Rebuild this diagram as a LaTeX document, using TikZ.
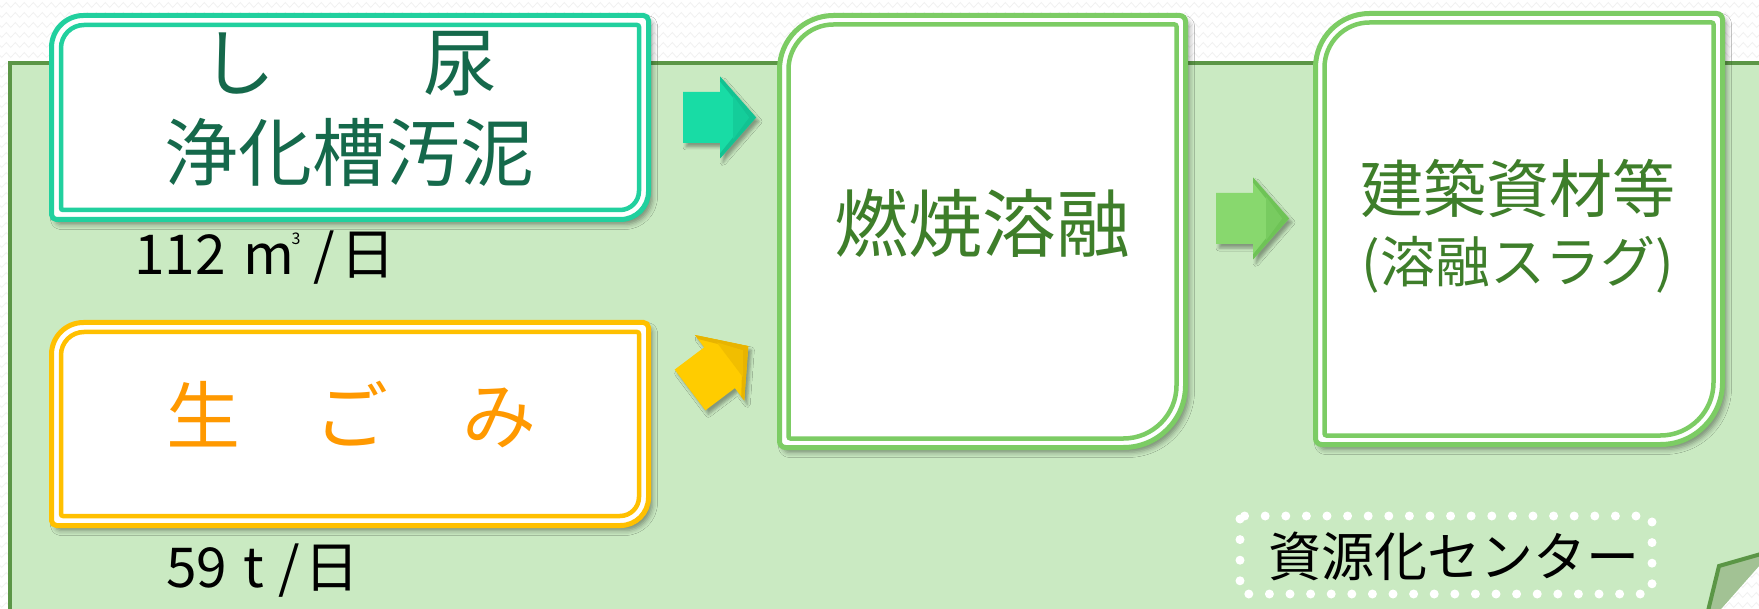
\documentclass[tikz,border=0pt]{standalone}
\usepackage{fontspec}
\setmainfont{Noto Sans CJK JP}
\usetikzlibrary{shadows.blur,decorations.pathmorphing}

\definecolor{panelfill}{HTML}{CAEAC2}
\definecolor{paneldraw}{HTML}{5B9646}
\definecolor{tealc}{HTML}{21D09E}
\definecolor{tealtext}{HTML}{15694B}
\definecolor{yellowc}{HTML}{FFC000}
\definecolor{orangetext}{HTML}{FF9900}
\definecolor{greenc}{HTML}{7CCC64}
\definecolor{greentext}{HTML}{3E7E2A}
\definecolor{tealarrow}{HTML}{18DCA5}
\definecolor{tealarrowd}{HTML}{12C292}
\definecolor{yellowarrow}{HTML}{FFCC00}
\definecolor{yellowarrowd}{HTML}{E8B400}
\definecolor{greenarrow}{HTML}{88D86E}
\definecolor{greenarrowd}{HTML}{6EC356}
\definecolor{foldfill}{HTML}{A2C294}

% box outline with top-left radius #5, bottom-right radius #6, other corners #7
\newcommand\mybox[7]{({#1},{#2+#5}) .. controls ({#1},{#2+0.448*#5}) and ({#1+0.448*#5},{#2}) .. ({#1+#5},{#2}) -- ({#3-#7},{#2}) .. controls ({#3-0.448*#7},{#2}) and ({#3},{#2+0.448*#7}) .. ({#3},{#2+#7}) -- ({#3},{#4-#6}) .. controls ({#3},{#4-0.448*#6}) and ({#3-0.448*#6},{#4}) .. ({#3-#6},{#4}) -- ({#1+#7},{#4}) .. controls ({#1+0.448*#7},{#4}) and ({#1},{#4-0.448*#7}) .. ({#1},{#4-#7}) -- cycle}

% block arrow: body then head, with bevel
\newcommand\blockarrow[2]{%
  \fill[#1, blur shadow={shadow xshift=3pt, shadow yshift=-4pt, shadow blur radius=3pt, shadow opacity=35}]
    (0,-25.5) -- (37,-25.5) -- (37,-41) -- (73,0) -- (37,41) -- (37,25.5) -- (0,25.5) -- cycle;
  \fill[#2] (37,-41) -- (73,0) -- (37,41) -- (37,36) -- (66,0) -- (37,-36) -- cycle;
  \fill[#2!60!#1] (50,-22) -- (66,0) -- (50,22) -- cycle;
}

\tikzset{
  zz/.style={draw=black!6, line width=0.7pt, decorate, decoration={zigzag, segment length=9pt, amplitude=2.5pt}},
  outerline/.style={line width=5pt, fill=white, blur shadow={shadow xshift=4pt, shadow yshift=-5pt, shadow blur radius=5pt, shadow opacity=40}},
  innerline/.style={line width=4.5pt},
  boxtext/.style={inner sep=0pt, anchor=base},
  amount/.style={inner sep=0pt, anchor=base west, font=\fontsize{55}{60}\selectfont, text=black}
}

\begin{document}
\begin{tikzpicture}[x=1pt,y=-1pt]
\useasboundingbox (0,0) rectangle (1759,609);
\fill[white] (0,0) rectangle (1759,609);
% faint zigzag background pattern
\foreach \yy in {5,15,...,55} { \draw[zz] (-5,\yy) -- (1765,\yy); }
\foreach \yy in {65,75,...,605} { \draw[zz] (-5,\yy) -- (9,\yy); }

% green panel
\fill[panelfill] (10,63) rectangle (1765,615);
\draw[paneldraw, line width=4pt] (10,615) -- (10,63) -- (1765,63);

% folded corner at bottom right
\fill[white] (1759,566) -- (1721,609) -- (1759,609) -- cycle;
\begin{scope}
  \clip (1759,566) -- (1721,609) -- (1759,609) -- cycle;
  \foreach \yy in {565,575,...,605} { \draw[zz] (1700,\yy) -- (1765,\yy); }
\end{scope}
\fill[foldfill] (1709,609) -- (1719,566) -- (1759,555) -- (1759,566) -- (1721,609) -- cycle;
\draw[paneldraw, line width=4pt, line join=miter] (1708,611) -- (1719,566) -- (1761,554);

% box 1
\draw[tealc, outerline] \mybox{51.5}{15.5}{648.5}{219.5}{32}{28}{5};
\draw[tealc, innerline] \mybox{61}{25}{639}{210}{23}{19}{2};
\node[boxtext, text=tealtext, font=\fontsize{74}{80}\selectfont] (b1a) at (349,91) {し　　尿};
\node[boxtext, text=tealtext, font=\fontsize{74}{80}\selectfont] (b1b) at (349,181) {浄化槽汚泥};
\node[amount] (am1) at (134,275) {112\hspace{18pt}m\kern-3pt\raisebox{30pt}{\fontsize{16}{16}\selectfont 3}\hspace{13pt}/\hspace{5pt}日};

% box 2
\draw[yellowc, outerline] \mybox{51.5}{322.5}{648.5}{525.5}{32}{28}{5};
\draw[yellowc, innerline] \mybox{61}{332}{639}{516}{23}{19}{2};
\node[boxtext, text=orangetext, font=\fontsize{74}{80}\selectfont] (b2) at (351,443) {生　ご　み};
\node[amount] (am2) at (166,587) {59\hspace{16pt}t\hspace{15pt}/\hspace{4pt}日};

% box 3
\draw[greenc, outerline] \mybox{779.5}{15.5}{1185.5}{447.5}{54}{62}{6};
\draw[greenc, innerline] \mybox{788.5}{24.5}{1176.5}{438.5}{45}{53}{2};
\node[boxtext, text=greentext, font=\fontsize{74}{80}\selectfont] (b3) at (982,252) {燃焼溶融};

% box 4
\draw[greenc, outerline] \mybox{1315.5}{13.5}{1722.5}{444.5}{54}{62}{6};
\draw[greenc, innerline] \mybox{1324.5}{22.5}{1713.5}{435.5}{45}{53}{2};
\node[boxtext, text=greentext, font=\fontsize{63}{70}\selectfont] (b4a) at (1518,213) {建築資材等};
\node[boxtext, text=greentext, font=\fontsize{55}{60}\selectfont] (b4b) at (1518,283) {(溶融スラグ)};

% block arrows
\begin{scope}[shift={(683,117.5)}]
  \blockarrow{tealarrow}{tealarrowd}
\end{scope}
\begin{scope}[shift={(690,390)}, rotate=37]
  \blockarrow{yellowarrow}{yellowarrowd}
\end{scope}
\begin{scope}[shift={(1216,218.5)}]
  \blockarrow{greenarrow}{greenarrowd}
\end{scope}

% label
\draw[white, line width=9pt, line cap=round, dash pattern=on 0pt off 20.6pt, rounded corners=3pt] (1240,516) rectangle (1652,594);
\node[boxtext, text=black, font=\fontsize{53}{58}\selectfont] (lbl) at (1454,576) {資源化センター};
\end{tikzpicture}
\end{document}
